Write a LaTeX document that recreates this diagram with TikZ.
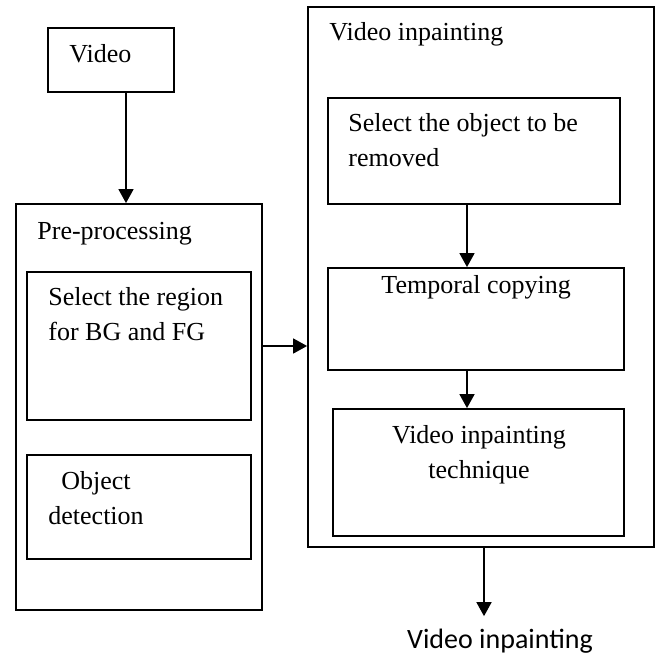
\documentclass[tikz,border=0pt]{standalone}
\usepackage{fontspec}
\setmainfont{Liberation Serif}
\newfontfamily\calibrifont{Carlito}
\usetikzlibrary{arrows.meta,calc}
\tikzset{
  box/.style   ={draw, line width=0.9pt, inner sep=0pt},
  lbl/.style   ={font=\fontsize{13}{17.5}\selectfont, inner sep=0pt,
                 align=left},
  lblc/.style  ={font=\fontsize{13}{17.5}\selectfont, inner sep=0pt,
                 align=center},
  outlbl/.style={font=\calibrifont\fontsize{14}{17}\selectfont,
                 inner sep=0pt, inner ysep=6pt},
  ar/.style    ={-{Triangle[length=7pt,width=7.5pt]}, line width=0.8pt}
}
\begin{document}
\begin{tikzpicture}[x=0.5pt,y=-0.5pt]
\useasboundingbox (0,0) rectangle (662,657);
% left column
\node[box, minimum width=63pt,  minimum height=32pt]  (video) at (111,60) {};
\node[box, minimum width=123pt, minimum height=203pt] (pre)   at (139,407) {};
\node[box, minimum width=112pt, minimum height=74pt]  (sel)   at (139,346) {};
\node[box, minimum width=112pt, minimum height=52pt]  (obj)   at (139,507) {};
% right column
\node[box, minimum width=173pt, minimum height=270pt]  (vip)    at (481,277) {};
\node[box, minimum width=146pt, minimum height=53pt]   (selobj) at (474,151) {};
\node[box, minimum width=148pt, minimum height=51pt]   (temp)   at (476,319) {};
\node[box, minimum width=145.5pt, minimum height=63.5pt] (tech) at (478.5,472.5) {};

% texts (base of a two-line node = its last line)
\node[lbl, anchor=base west] (videotxt) at (69,63) {Video};
\node[lbl, anchor=base west] (pretxt) at (37,240) {Pre-processing};
\node[lbl, anchor=base west] (seltxt) at (48,340) {Select the region\\for BG and FG};
\node[lbl, anchor=base west] (objtxt) at (48,524) {\hspace{6.5pt}Object\\detection};
\node[lbl, anchor=base west] (viptxt) at (329,41) {Video inpainting};
\node[lbl, anchor=base west] (selobjtxt) at (348,167) {Select the object to be\\removed};
\node[lbl, anchor=base west] (temptxt) at (381,293) {Temporal copying};
\node[lblc, anchor=base] (techtxt) at (479,478) {Video inpainting\\technique};
\node[outlbl, anchor=base] (out) at (500,648) {Video inpainting};

% connectors
\draw[ar] ([xshift=7.5pt]video.south) -- ([xshift=7.5pt]video.south |- pre.north);
\draw[ar] (sel -| pre.east) -- (sel -| vip.west);
\draw[ar] ([xshift=-3.5pt]selobj.south) -- ([xshift=-3.5pt]selobj.south |- temp.north);
\draw[ar] ([xshift=-4.5pt]temp.south) -- ([xshift=-4.5pt]temp.south |- tech.north);
\draw[ar] ([xshift=1.5pt]vip.south) -- ([xshift=1.5pt]vip.south |- out.north);
\end{tikzpicture}
\end{document}
